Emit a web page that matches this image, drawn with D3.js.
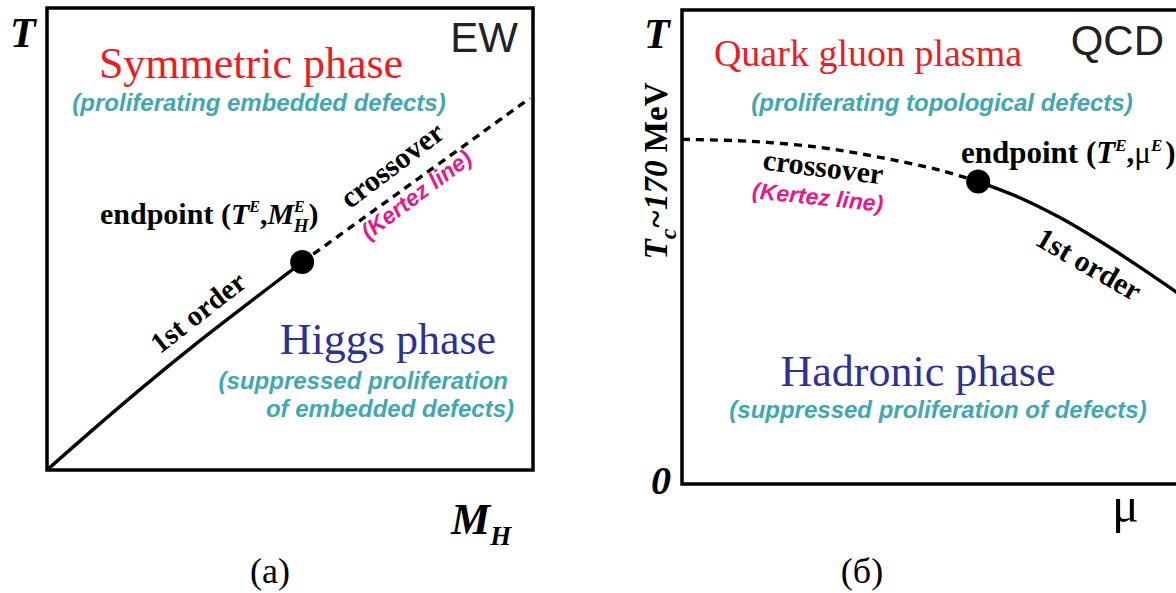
<!DOCTYPE html>
<html>
<head>
<meta charset="utf-8">
<script src="https://cdn.jsdelivr.net/npm/d3@7"></script>
<style>
  html, body { margin: 0; padding: 0; background: #fff; }
  svg { display: block; }
  .serif { font-family: "Liberation Serif", "Times New Roman", serif; }
  .sans { font-family: "Liberation Sans", Arial, sans-serif; }
</style>
</head>
<body>
<svg id="chart" width="1176" height="593"></svg>
<script>
// ---- Electroweak diagram: T versus Higgs mass (both in relative units) ----
const ewFirstOrder = [
  [0.000, 0.000], [0.103, 0.095], [0.206, 0.187], [0.309, 0.275],
  [0.412, 0.359], [0.525, 0.450]
];
const ewCrossover = [
  [0.525, 0.450], [0.644, 0.540], [0.767, 0.633], [0.891, 0.727], [0.994, 0.805]
];
const ewEndpoint = [0.525, 0.450];

// ---- QCD diagram: T versus baryon chemical potential (relative units) ----
const qcdCrossover = [
  [0.000, 0.727], [0.134, 0.723], [0.272, 0.710], [0.390, 0.689],
  [0.508, 0.662], [0.583, 0.638]
];
const qcdFirstOrder = [
  [0.583, 0.638], [0.665, 0.604], [0.744, 0.562], [0.823, 0.512],
  [0.902, 0.457], [1.000, 0.385]
];
const qcdEndpoint = [0.583, 0.638];

const colRed = "#ec1c24", colBlue = "#2e3192", colTeal = "#3fa8b0", colMagenta = "#e6198c";

const svg = d3.select("#chart");

// scales for each panel
const xa = d3.scaleLinear().domain([0, 1]).range([47, 533]);
const ya = d3.scaleLinear().domain([0, 1]).range([470, 8]);
const xb = d3.scaleLinear().domain([0, 1]).range([682, 1190]);
const yb = d3.scaleLinear().domain([0, 1]).range([484, 10]);

function frame(x, y) {
  svg.append("rect")
    .attr("x", x(0)).attr("y", y(1))
    .attr("width", x(1) - x(0)).attr("height", y(0) - y(1))
    .attr("fill", "none").attr("stroke", "#000").attr("stroke-width", 3.5);
}

function curve(data, x, y, dashed) {
  const line = d3.line().x(d => x(d[0])).y(d => y(d[1])).curve(d3.curveCatmullRom.alpha(0.5));
  svg.append("path").attr("d", line(data))
    .attr("fill", "none").attr("stroke", "#000")
    .attr("stroke-width", 3.4)
    .attr("stroke-dasharray", dashed ? "8,6" : null);
}

function dot(p, x, y) {
  svg.append("circle").attr("cx", x(p[0])).attr("cy", y(p[1])).attr("r", 12).attr("fill", "#000");
}

function label(txt, px, py, opts) {
  const o = Object.assign({ size: 20, cls: "serif", fill: "#000", weight: "normal", style: "normal", anchor: "start", rot: 0 }, opts);
  return svg.append("text")
    .attr("class", o.cls)
    .attr("transform", `translate(${px},${py}) rotate(${o.rot})`)
    .attr("font-size", o.size).attr("fill", o.fill)
    .attr("font-weight", o.weight).attr("font-style", o.style)
    .attr("text-anchor", o.anchor)
    .text(txt);
}

const tealOpts = { size: 24, cls: "sans", fill: colTeal, weight: "bold", style: "italic" };
const magOpts = { size: 23, cls: "sans", fill: colMagenta, weight: "bold", style: "italic", anchor: "middle" };

// ===================== Panel (a): EW =====================
frame(xa, ya);
curve(ewFirstOrder, xa, ya, false);
curve(ewCrossover, xa, ya, true);
dot(ewEndpoint, xa, ya);

label("T", 10, 47, { size: 42, weight: "bold", style: "italic" });
label("EW", 518, 52, { size: 42, cls: "sans", fill: "#222", anchor: "end" });
label("Symmetric phase", 251, 78, { size: 44, fill: colRed, anchor: "middle" });
label("(proliferating embedded defects)", 259, 111, Object.assign({}, tealOpts, { anchor: "middle" }));

label("crossover", 398, 173, { size: 30, weight: "bold", anchor: "middle", rot: -37 });
label("(Kertez line)", 421, 201, Object.assign({}, magOpts, { rot: -37 }));
label("1st order", 204, 320, { size: 29, weight: "bold", anchor: "middle", rot: -38 });

// endpoint (T^E, M_H^E)
{
  const t = label("endpoint (", 100, 224, { size: 30, weight: "bold" });
  t.append("tspan").attr("font-style", "italic").text("T");
  t.append("tspan").attr("font-style", "italic").attr("font-size", 16).attr("dy", -12).text("E");
  t.append("tspan").attr("dy", 12).text(",");
  t.append("tspan").attr("font-style", "italic").text("M");
  t.append("tspan").attr("font-style", "italic").attr("font-size", 16).attr("dy", -12).text("E");
  t.append("tspan").attr("font-style", "italic").attr("font-size", 19).attr("dx", -11).attr("dy", 20).text("H");
  t.append("tspan").attr("dy", -8).text(")");
}

label("Higgs phase", 388, 354, { size: 44, fill: colBlue, anchor: "middle" });
label("(suppressed proliferation", 508, 389, Object.assign({}, tealOpts, { anchor: "end" }));
label("of embedded defects)", 514, 417, Object.assign({}, tealOpts, { anchor: "end" }));

{
  const t = label("M", 451, 534, { size: 44, weight: "bold", style: "italic" });
  t.append("tspan").attr("font-size", 27).attr("dy", 11).text("H");
}
label("(a)", 270, 583, { size: 36, anchor: "middle" });

// ===================== Panel (б): QCD =====================
frame(xb, yb);
curve(qcdCrossover, xb, yb, true);
curve(qcdFirstOrder, xb, yb, false);
dot(qcdEndpoint, xb, yb);

label("T", 644, 48, { size: 42, weight: "bold", style: "italic" });
label("QCD", 1164, 55, { size: 42, cls: "sans", fill: "#222", anchor: "end" });
label("Quark gluon plasma", 868, 66, { size: 38, fill: colRed, anchor: "middle" });
label("(proliferating topological defects)", 942, 111, Object.assign({}, tealOpts, { anchor: "middle" }));

label("crossover", 822, 177, { size: 30, weight: "bold", anchor: "middle", rot: 7 });
label("(Kertez line)", 817, 205, Object.assign({}, magOpts, { rot: 6 }));
label("1st order", 1084, 273, { size: 30, weight: "bold", anchor: "middle", rot: 30 });

// endpoint (T^E, μ^E)
{
  const t = label("endpoint (", 961, 163, { size: 31, weight: "bold" });
  t.append("tspan").attr("font-style", "italic").text("T");
  t.append("tspan").attr("font-style", "italic").attr("font-size", 17).attr("dy", -12).text("E");
  t.append("tspan").attr("dy", 12).text(",");
  t.append("tspan").attr("font-weight", "normal").text("μ");
  t.append("tspan").attr("font-style", "italic").attr("font-size", 17).attr("dy", -12).text("E");
  t.append("tspan").attr("dx", 3).attr("dy", 12).text(")");
}

// T_c ~ 170 MeV, rotated along the T axis
{
  const t = label("", 667, 171, { size: 33, weight: "bold", anchor: "middle", rot: -90 });
  t.append("tspan").attr("font-style", "italic").text("T");
  t.append("tspan").attr("font-style", "italic").attr("font-size", 24).attr("dy", 9).text("c");
  t.append("tspan").attr("font-style", "italic").attr("dy", -9).text("~170 ");
  t.append("tspan").text("MeV");
}

label("Hadronic phase", 918, 386, { size: 44, fill: colBlue, anchor: "middle" });
label("(suppressed proliferation of defects)", 938, 418, Object.assign({}, tealOpts, { anchor: "middle" }));

label("0", 651, 494, { size: 40, weight: "bold", style: "italic" });
label("μ", 1112, 522, { size: 50 });
label("(б)", 862, 583, { size: 36, anchor: "middle" });
</script>
</body>
</html>
